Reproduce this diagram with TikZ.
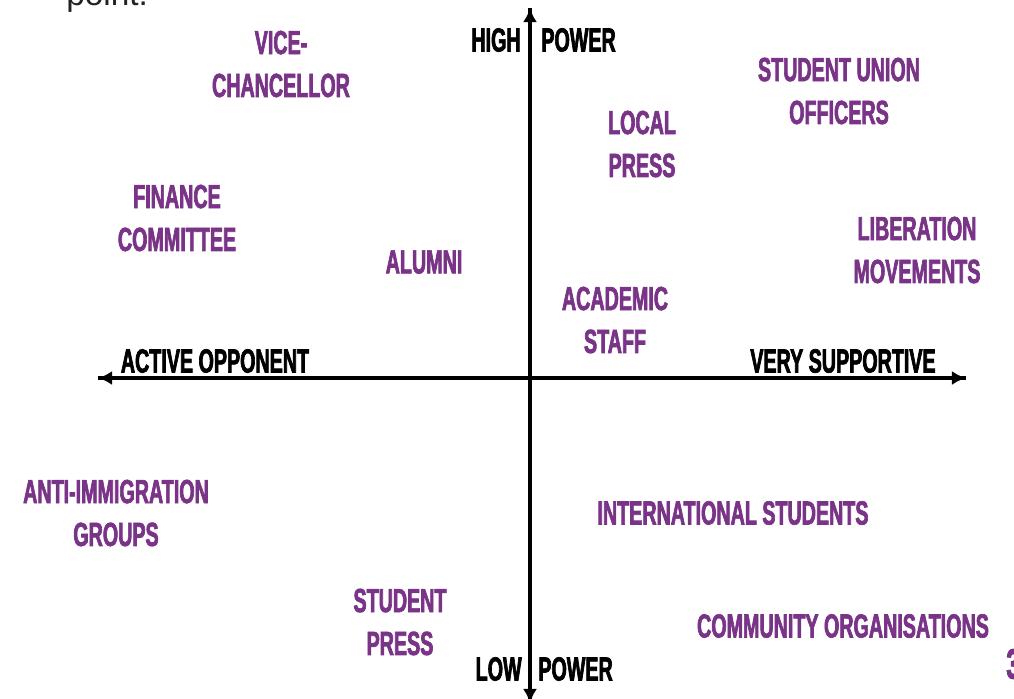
\documentclass[tikz,border=0pt]{standalone}
\usepackage{fontspec}
\usepackage{tikz}
\usetikzlibrary{arrows.meta}
\newfontfamily\gridfont{Liberation Sans}[FakeStretch=0.59, FakeBold=2]
\newfontfamily\slidefont{Liberation Sans}
\definecolor{uniPurple}{RGB}{122,52,135}
\definecolor{slideGrey}{RGB}{35,35,35}

\begin{document}
\begin{tikzpicture}[x=0.02cm, y=-0.02cm,
    stake/.style={color=uniPurple, inner sep=0, align=center,
        font=\gridfont\bfseries\fontsize{19}{24.4}\selectfont},
    axislabel/.style={color=black, inner sep=0,
        font=\gridfont\bfseries\fontsize{19}{24.4}\selectfont},
    axis/.style={line width=2.1pt, -{Latex[length=8pt, width=8pt]}}]
    \useasboundingbox (0, 0) rectangle (1014, 698);

    % axes
    \coordinate (origin) at (530, 378);
    \coordinate (top) at (530, 8);
    \coordinate (bottom) at (530, 703);
    \coordinate (left) at (98, 378);
    \coordinate (right) at (966, 378);
    \draw[axis] (bottom) -- (top);
    \draw[axis] (top) -- (bottom);
    \draw[axis] (right) -- (left);
    \draw[axis] (left) -- (right);

    \node[axislabel, anchor=east] (high) at (521, 40) {HIGH};
    \node[axislabel, anchor=west] (highpower) at (541, 40) {POWER};
    \node[axislabel, anchor=east] (low) at (522, 669) {LOW};
    \node[axislabel, anchor=west] (lowpower) at (538, 669) {POWER};
    \node[axislabel] (opponent) at (215, 361) {ACTIVE OPPONENT};
    \node[axislabel] (supportive) at (843, 361) {VERY SUPPORTIVE};

    % stakeholders
    \node[stake] (vc) at (281, 64) {VICE-\\CHANCELLOR};
    \node[stake] (finance) at (177, 218) {FINANCE\\COMMITTEE};
    \node[stake] (alumni) at (424, 262) {ALUMNI};
    \node[stake] (localpress) at (642, 144) {LOCAL\\PRESS};
    \node[stake] (union) at (839, 91) {STUDENT UNION\\OFFICERS};
    \node[stake] (liberation) at (917, 250) {LIBERATION\\MOVEMENTS};
    \node[stake] (academic) at (615, 320) {ACADEMIC\\STAFF};
    \node[stake] (anti) at (116, 513) {ANTI-IMMIGRATION\\GROUPS};
    \node[stake] (intl) at (733, 513) {INTERNATIONAL STUDENTS};
    \node[stake] (studentpress) at (400, 622) {STUDENT\\PRESS};
    \node[stake] (community) at (843, 626) {COMMUNITY ORGANISATIONS};

    % slide leftovers
    \node[color=slideGrey, inner sep=0, anchor=base west,
        font=\slidefont\fontsize{19}{23}\selectfont] (point) at (66, 5) {point.};
    \node[stake, anchor=west, font=\gridfont\bfseries\fontsize{24}{28}\selectfont]
        (page) at (1006, 664) {3};
\end{tikzpicture}
\end{document}
